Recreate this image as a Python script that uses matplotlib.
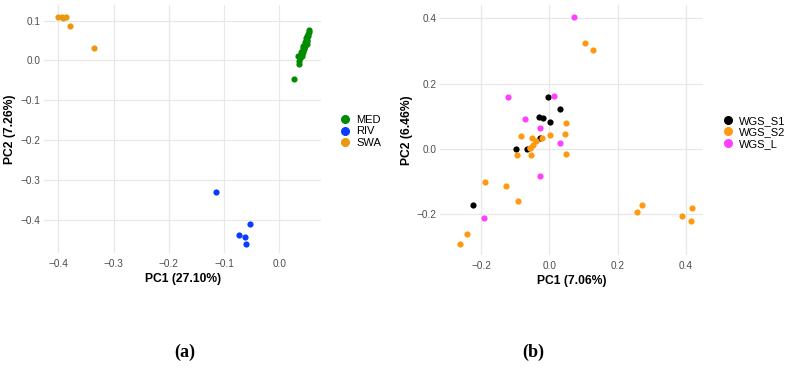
import matplotlib
matplotlib.use("Agg")
import matplotlib.pyplot as plt
from matplotlib.lines import Line2D

plt.rcParams["font.family"] = ["Liberation Sans", "DejaVu Sans"]

# PANEL A DATA (PC1 / PC2 by population)

med_x = [0.027, 0.036, 0.035, 0.033, 0.037, 0.038, 0.040, 0.039, 0.041, 0.042,
         0.043, 0.042, 0.044, 0.045, 0.043, 0.046, 0.047, 0.048, 0.047, 0.049,
         0.050, 0.048, 0.050, 0.051, 0.052, 0.053, 0.054, 0.050, 0.045, 0.040]
med_y = [-0.046, -0.008, -0.002, 0.010, 0.005, 0.012, 0.015, 0.020, 0.018, 0.025,
         0.022, 0.030, 0.028, 0.033, 0.036, 0.038, 0.035, 0.042, 0.046, 0.048,
         0.050, 0.055, 0.060, 0.062, 0.066, 0.070, 0.075, 0.040, 0.030, 0.010]
riv_x = [-0.115, -0.054, -0.074, -0.062, -0.061]
riv_y = [-0.329, -0.411, -0.439, -0.444, -0.461]
swa_x = [-0.401, -0.393, -0.386, -0.391, -0.379, -0.336]
swa_y = [0.108, 0.108, 0.108, 0.106, 0.087, 0.031]

# PANEL B DATA

s1_x = [-0.004, 0.030, -0.031, -0.018, 0.003, -0.026, -0.099, -0.066, -0.223]
s1_y = [0.160, 0.121, 0.097, 0.093, 0.082, 0.033, -0.002, -0.003, -0.174]
s2_x = [0.105, 0.129, 0.048, -0.084, -0.052, -0.021, 0.001, 0.045, -0.040, -0.049,
        -0.056, -0.058, -0.095, -0.053, 0.048, -0.189, -0.127, -0.093, -0.240,
        -0.261, 0.258, 0.272, 0.387, 0.418, 0.414]
s2_y = [0.326, 0.303, 0.080, 0.039, 0.033, 0.031, 0.043, 0.046, 0.022, 0.011,
        0.002, 0.001, -0.021, -0.019, -0.018, -0.104, -0.114, -0.161, -0.263,
        -0.294, -0.195, -0.173, -0.209, -0.183, -0.222]
l_x = [0.071, -0.121, 0.013, -0.072, -0.026, 0.032, -0.026, -0.190]
l_y = [0.404, 0.160, 0.163, 0.092, 0.063, 0.018, -0.084, -0.214]

fig = plt.figure(figsize=(7.91, 3.72), dpi=100)
ax1 = fig.add_axes([0.0556, 0.320, 0.3504, 0.6666])
ax2 = fig.add_axes([0.5563, 0.315, 0.3325, 0.6720])

PT = 20


def style(ax):
    for sp in ax.spines.values():
        sp.set_visible(False)
    ax.grid(True, color="#E8E8E8", linewidth=0.9)
    ax.set_axisbelow(True)
    ax.tick_params(length=0, labelsize=7.2, labelcolor="#4D4D4D")
    ax.tick_params(axis="x", pad=4.5)
    ax.tick_params(axis="y", pad=2.5)


def legend(ax, labels, colors, x):
    handles = [Line2D([], [], marker="o", linestyle="", markersize=5.5,
                      markerfacecolor=c, markeredgecolor=c) for c in colors]
    ax.legend(handles, labels, loc="center left", bbox_to_anchor=(x, 0.49),
              frameon=False, fontsize=8, handlelength=1, handletextpad=0.5,
              labelspacing=0.12, borderaxespad=0)


# PANEL A

style(ax1)
ax1.scatter(med_x, med_y, s=PT, color="#008B00", linewidths=0)
ax1.scatter(riv_x, riv_y, s=PT, color="#0A3CFF", linewidths=0)
ax1.scatter(swa_x, swa_y, s=PT, color="#E8990F", linewidths=0)
ax1.set_xlim(-0.426, 0.0755)
ax1.set_ylim(-0.483, 0.139)
ax1.set_xticks([-0.4, -0.3, -0.2, -0.1, 0.0])
ax1.set_yticks([-0.4, -0.3, -0.2, -0.1, 0.0, 0.1])
ax1.set_xlabel("PC1 (27.10%)", fontsize=8.7, fontweight="bold", labelpad=2.5)
ax1.set_ylabel("PC2 (7.26%)", fontsize=8.7, fontweight="bold", labelpad=3)
legend(ax1, ["MED", "RIV", "SWA"], ["#008B00", "#0A3CFF", "#E8990F"], 1.05)

# PANEL B

style(ax2)
ax2.scatter(s1_x, s1_y, s=PT, color="black", linewidths=0)
ax2.scatter(s2_x, s2_y, s=PT, color="#FF9A10", linewidths=0)
ax2.scatter(l_x, l_y, s=PT, color="#FF40FF", linewidths=0)
ax2.set_xlim(-0.32, 0.45)
ax2.set_ylim(-0.327, 0.442)
ax2.set_xticks([-0.2, 0.0, 0.2, 0.4])
ax2.set_yticks([-0.2, 0.0, 0.2, 0.4])
ax2.set_xlabel("PC1 (7.06%)", fontsize=8.7, fontweight="bold", labelpad=2.5)
ax2.set_ylabel("PC2 (6.46%)", fontsize=8.7, fontweight="bold", labelpad=3)
legend(ax2, ["WGS_S1", "WGS_S2", "WGS_L"], ["black", "#FF9A10", "#FF40FF"], 1.057)

# PANEL LETTERS

fig.text(185 / 791, 1 - 352 / 372, "(a)", fontsize=13, fontweight="bold",
         family="Liberation Serif", ha="center", va="center")
fig.text(533 / 791, 1 - 352 / 372, "(b)", fontsize=13, fontweight="bold",
         family="Liberation Serif", ha="center", va="center")

fig.savefig("out.png", dpi=100, facecolor="white")
